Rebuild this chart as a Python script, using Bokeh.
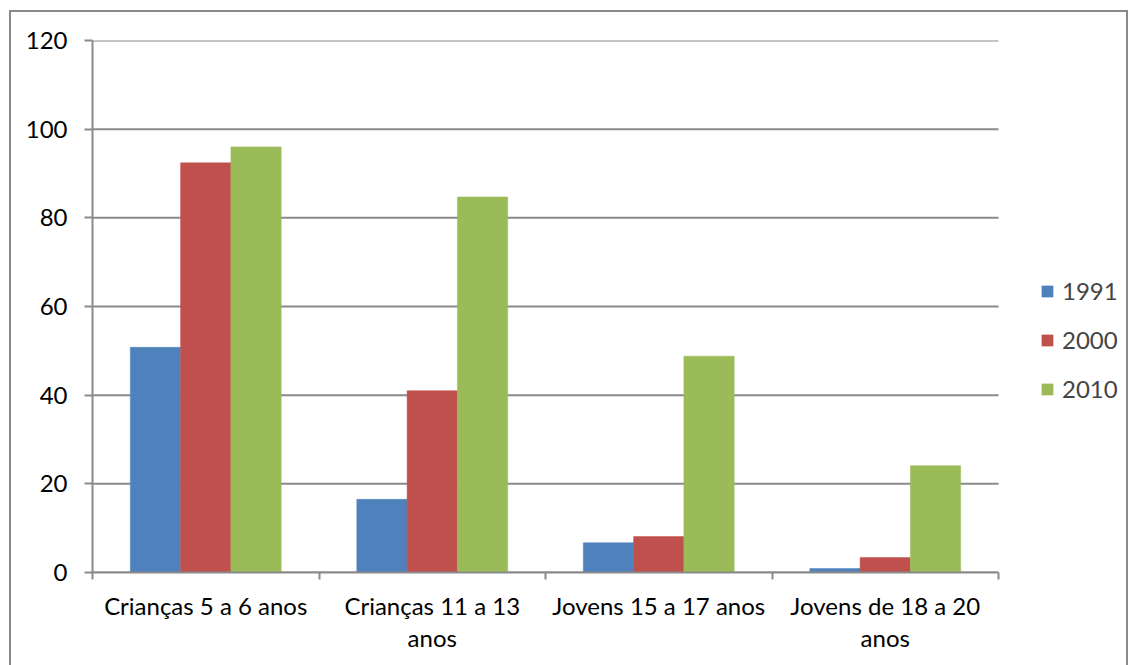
from bokeh.plotting import figure
from bokeh.models import (ColumnDataSource, FixedTicker, Legend, LegendItem, Range1d,
                          InlineStyleSheet)
from bokeh.transform import dodge
from bokeh.embed import file_html
from bokeh.resources import INLINE

categories = ["Crianças 5 a 6 anos", "Crianças 11 a 13 anos",
              "Jovens 15 a 17 anos", "Jovens de 18 a 20 anos"]
tick_labels = ["Crianças 5 a 6 anos", "Crianças 11 a 13\nanos",
               "Jovens 15 a 17 anos", "Jovens de 18 a 20\nanos"]
series = ["1991", "2000", "2010"]
v1991 = [50.8, 16.5, 6.7, 0.9]
v2000 = [92.4, 41.0, 8.1, 3.4]
v2010 = [96.0, 84.7, 48.8, 24.1]
colors = ["#4F81BD", "#C0504D", "#9BBB59"]
y_ticks = [0, 20, 40, 60, 80, 100, 120]

n = len(categories)
xpos = [i + 0.5 for i in range(n)]
src = ColumnDataSource(dict(x=xpos, v1991=v1991, v2000=v2000, v2010=v2010))

FONT = "Lato"
FS = "24px"
GRAY = "#8a8a8a"
# frame runs to the right edge; the 4 categories occupy 906 of its 1039 px
p = figure(width=1131, height=665, output_backend="svg", toolbar_location=None,
           x_range=Range1d(0, n * 1039 / 906), y_range=Range1d(0, 120),
           min_border_left=92, min_border_right=0, min_border_top=40,
           min_border_bottom=93)
p.stylesheets = [InlineStyleSheet(css=(
    ":host::after { content: ''; position: absolute; left: 9px; top: 10px; "
    "width: 1115px; height: 655px; border-left: 2px solid #8a8a8a; "
    "border-top: 2px solid #8a8a8a; border-right: 2px solid #8a8a8a; "
    "pointer-events: none; z-index: 10; box-sizing: content-box; }"))]
p.outline_line_color = None
p.background_fill_color = "white"
p.border_fill_color = "white"
p.xgrid.grid_line_color = None
p.ygrid.grid_line_color = None

# horizontal gridlines limited to the category span
p.segment(x0=[0] * len(y_ticks), x1=[n] * len(y_ticks), y0=y_ticks, y1=y_ticks,
          line_color=GRAY, line_width=2)

w = 0.222
renderers = []
for i, (s, col) in enumerate(zip(series, colors)):
    r = p.vbar(x=dodge("x", (i - 1) * w, range=p.x_range), top="v" + s, width=w,
               source=src, fill_color=col, line_color=col, line_width=0.5)
    renderers.append(r)

# axes
p.xaxis.bounds = (0, n)
p.xaxis.ticker = FixedTicker(ticks=xpos, minor_ticks=list(range(n + 1)))
p.xaxis.major_label_overrides = {x: lab for x, lab in zip(xpos, tick_labels)}
p.xaxis.major_tick_line_color = None
p.xaxis.minor_tick_in = 0
p.xaxis.minor_tick_out = 7
p.xaxis.minor_tick_line_color = GRAY
p.xaxis.minor_tick_line_width = 2
p.xaxis.axis_line_color = GRAY
p.xaxis.axis_line_width = 2
p.xaxis.major_label_text_font = FONT
p.xaxis.major_label_text_font_size = FS
p.xaxis.major_label_text_color = "black"
p.xaxis.major_label_standoff = 11
p.xaxis.major_label_text_line_height = 1.12

p.yaxis.ticker = FixedTicker(ticks=y_ticks)
p.yaxis.minor_tick_line_color = None
p.yaxis.major_tick_in = 0
p.yaxis.major_tick_out = 8
p.yaxis.major_tick_line_color = GRAY
p.yaxis.major_tick_line_width = 2
p.yaxis.axis_line_color = GRAY
p.yaxis.axis_line_width = 2
p.yaxis.major_label_text_font = FONT
p.yaxis.major_label_text_font_size = FS
p.yaxis.major_label_text_color = "black"
p.yaxis.major_label_standoff = 17

legend = Legend(items=[LegendItem(label=s, renderers=[r]) for s, r in zip(series, renderers)],
                location=(948, 169), orientation="vertical",
                glyph_width=14, glyph_height=14, label_standoff=8, spacing=20,
                padding=0, margin=0, border_line_color=None, background_fill_alpha=0,
                label_text_font=FONT, label_text_font_size=FS)
p.add_layout(legend, "center")

open("out.html", "w").write(file_html(p, INLINE))
